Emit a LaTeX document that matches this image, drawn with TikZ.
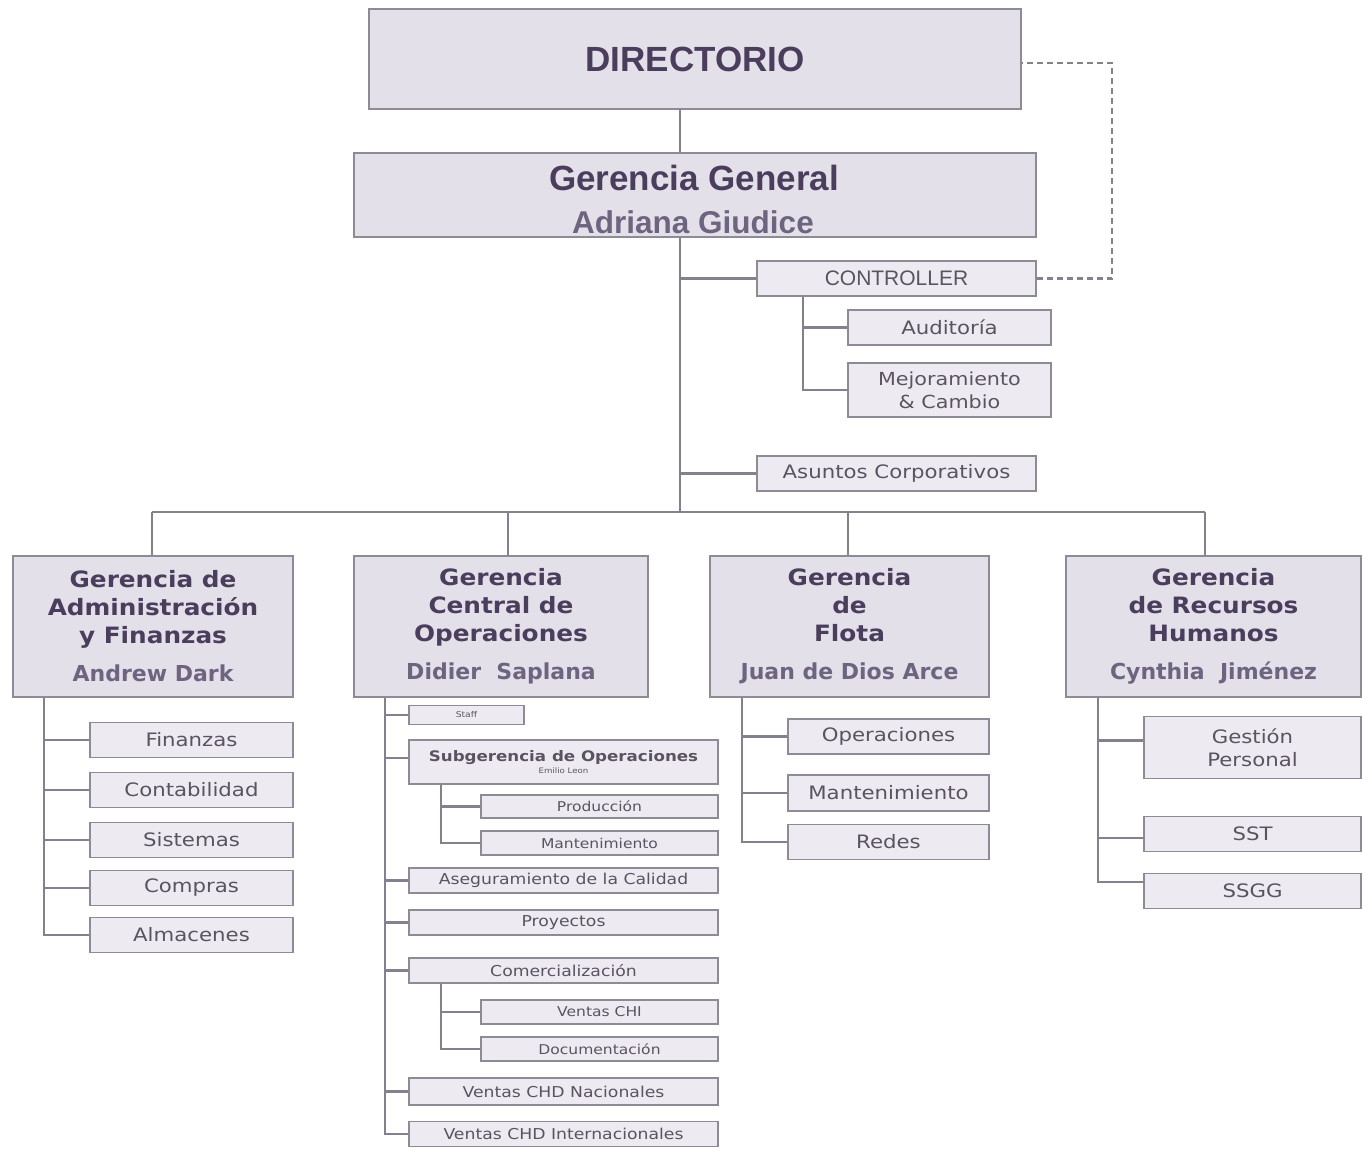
\documentclass[tikz,border=0pt]{standalone}
\usepackage{fontspec}
\setmainfont{DejaVu Sans}
\newfontfamily\arialf{Liberation Sans}
\newfontfamily\wfont[FakeStretch=1.15]{DejaVu Sans}
\newfontfamily\wbfont[FakeStretch=1.1]{DejaVu Sans}
\definecolor{fillA}{HTML}{E4E0EA}
\definecolor{fillB}{HTML}{EDEBF1}
\definecolor{bordc}{HTML}{8E8A96}
\definecolor{linec}{HTML}{85808E}
\definecolor{titlec}{HTML}{4A3E5C}
\definecolor{namec}{HTML}{6E6480}
\definecolor{subc}{HTML}{5A5462}
\newcommand{\pname}[1]{{\normalfont\bfseries\fontsize{22}{28}\selectfont\color{namec}#1}}
\begin{document}
\begin{tikzpicture}[x=1pt,y=-1pt,
  box/.style={draw=bordc, line width=1.8pt, fill=fillA, inner sep=0pt, align=center, text=titlec},
  lvtwo/.style={box, minimum height=141pt, font=\wbfont\bfseries\fontsize{22.5}{28}\selectfont},
  sbox/.style={box, fill=fillB, text=subc},
  subA/.style={sbox, minimum width=203pt, minimum height=35pt, font=\wfont\fontsize{18.5}{23}\selectfont},
  subO/.style={sbox, minimum width=309pt, font=\wfont\fontsize{15}{18}\selectfont},
  subN/.style={sbox, minimum width=237pt, font=\wfont\fontsize{13.5}{16}\selectfont},
  ttext/.style={inner sep=0pt, text=titlec, font=\arialf\bfseries\fontsize{35}{40}\selectfont},
  conn/.style={draw=linec, line width=2.4pt},
  dconn/.style={draw=linec, line width=2.2pt, dash pattern=on 6pt off 4pt}]
\useasboundingbox[fill=white] (0,0) rectangle (1367,1148);

% top
\node[box, minimum width=652pt, minimum height=100pt, font=\arialf\bfseries\fontsize{35}{40}\selectfont] (dir) at (695,59) {DIRECTORIO};
\node[box, minimum width=682pt, minimum height=84pt] (gg) at (695,195) {};
\node[ttext] (ggt) at (694,178) {Gerencia General};
\node[ttext, text=namec, font=\arialf\bfseries\fontsize{31.5}{36}\selectfont] (ggn) at (693,222) {Adriana Giudice};

\node[sbox, minimum width=279pt, minimum height=35pt, font=\arialf\fontsize{21}{24}\selectfont] (ctrl) at (896.5,278.5) {CONTROLLER};
\node[subA] (aud) at (949.5,327.5) {Auditoría};
\node[subA, minimum height=54pt, font=\wfont\fontsize{18}{23}\selectfont] (mej) at (949.5,390) {Mejoramiento\\\& Cambio};
\node[sbox, minimum width=279pt, minimum height=35pt, font=\wfont\fontsize{18.5}{23}\selectfont] (asun) at (896.5,473.5) {Asuntos Corporativos};

% level 2
\node[lvtwo, minimum width=280pt] (adm) at (153,626.5)
  {Gerencia de\\Administración\\y Finanzas\\[10pt]\pname{Andrew Dark}};
\node[lvtwo, minimum width=294pt] (ops) at (501,626.5)
  {Gerencia\\Central de\\Operaciones\\[10pt]\pname{Didier\ \ Saplana}};
\node[lvtwo, minimum width=279pt] (flo) at (849.5,626.5)
  {Gerencia\\de\\Flota\\[10pt]\pname{Juan de Dios Arce}};
\node[lvtwo, minimum width=295pt] (rh) at (1213.5,626.5)
  {Gerencia\\de Recursos\\Humanos\\[10pt]\pname{Cynthia\ \ Jiménez}};

% admin subs
\node[subA] (fin) at (191.5,740) {Finanzas};
\node[subA] (con) at (191.5,790) {Contabilidad};
\node[subA] (sis) at (191.5,840) {Sistemas};
\node[subA] (com) at (191.5,888) {Compras};
\node[subA] (alm) at (191.5,935) {Almacenes};

% operations subs
\node[sbox, minimum width=115pt, minimum height=19pt, font=\wfont\fontsize{8}{9}\selectfont] (staff) at (466.5,715) {Staff};
\node[sbox, minimum width=309pt, minimum height=44pt] (subg) at (563.5,762)
  {{\wfont\bfseries\fontsize{14.5}{20}\selectfont Subgerencia de Operaciones}\\{\wfont\fontsize{7.5}{9}\selectfont Emilio Leon}};
\node[subN, minimum height=23pt] (prod) at (599.5,806.5) {Producción};
\node[subN, minimum height=24pt] (mant) at (599.5,843) {Mantenimiento};
\node[subO, minimum height=25pt] (aseg) at (563.5,880.5) {Aseguramiento de la Calidad};
\node[subO, minimum height=25pt] (proy) at (563.5,922.5) {Proyectos};
\node[subO, minimum height=25pt] (come) at (563.5,970.5) {Comercialización};
\node[subN, minimum height=24pt] (vchi) at (599.5,1012) {Ventas CHI};
\node[subN, minimum height=24pt] (doc) at (599.5,1049) {Documentación};
\node[subO, minimum height=27pt] (vnac) at (563.5,1091.5) {Ventas CHD Nacionales};
\node[subO, minimum height=25pt] (vint) at (563.5,1134) {Ventas CHD Internacionales};

% fleet subs
\node[subA, minimum width=201pt] (fop) at (888.5,736.5) {Operaciones};
\node[subA, minimum width=201pt, minimum height=36pt] (fman) at (888.5,793) {Mantenimiento};
\node[subA, minimum width=201pt] (fred) at (888.5,842) {Redes};

% HR subs
\node[subA, minimum width=217pt, minimum height=62pt] (gp) at (1252.5,747.5) {Gestión\\Personal};
\node[subA, minimum width=217pt] (sst) at (1252.5,834) {SST};
\node[subA, minimum width=217pt, minimum height=35pt] (ssgg) at (1252.5,891) {SSGG};

% connectors top
\coordinate (tk) at (680,512);
\draw[conn] (dir.south -| tk) -- (gg.north -| tk);
\draw[conn] (gg.south -| tk) -- (tk);
\draw[conn] (ctrl.west -| tk) -- (ctrl.west);
\draw[conn] (asun.west -| tk) -- (asun.west);
\coordinate (ctlT) at (803,0);
\draw[conn] (ctrl.south -| ctlT) |- (mej.west);
\draw[conn] (ctlT |- aud.west) -- (aud.west);
\coordinate (dtop) at (1112,63);
\draw[dconn] (ctrl.east) -| (dtop) -- (dtop -| dir.east);

% bus
\coordinate (d1) at (152,512);
\coordinate (d2) at (508,512);
\coordinate (d3) at (848,512);
\coordinate (d4) at (1205,512);
\draw[conn] (d1) -- (d4);
\draw[conn] (d1) -- (d1 |- adm.north);
\draw[conn] (d2) -- (d2 |- ops.north);
\draw[conn] (d3) -- (d3 |- flo.north);
\draw[conn] (d4) -- (d4 |- rh.north);

% admin tree
\coordinate (admT) at (44,0);
\draw[conn] (adm.south -| admT) |- (alm.west);
\foreach \n in {fin,con,sis,com} \draw[conn] (admT |- \n.west) -- (\n.west);

% ops tree
\coordinate (opsT) at (385,0);
\draw[conn] (ops.south -| opsT) |- (vint.west);
\foreach \n in {staff,aseg,proy,come,vnac} \draw[conn] (opsT |- \n.west) -- (\n.west);
\draw[conn] ([yshift=4pt]subg.west -| opsT) -- ([yshift=4pt]subg.west);
\coordinate (subT) at (441,0);
\draw[conn] (subg.south -| subT) |- (mant.west);
\draw[conn] (subT |- prod.west) -- (prod.west);
\draw[conn] (come.south -| subT) |- (doc.west);
\draw[conn] (subT |- vchi.west) -- (vchi.west);

% fleet tree
\coordinate (floT) at (742,0);
\draw[conn] (flo.south -| floT) |- (fred.west);
\foreach \n in {fop,fman} \draw[conn] (floT |- \n.west) -- (\n.west);

% HR tree
\coordinate (rhT) at (1098,0);
\draw[conn] (rh.south -| rhT) |- ([yshift=9pt]ssgg.west);
\draw[conn] ([yshift=7pt]gp.west -| rhT) -- ([yshift=7pt]gp.west);
\draw[conn] ([yshift=-4pt]sst.west -| rhT) -- ([yshift=-4pt]sst.west);
\end{tikzpicture}
\end{document}
